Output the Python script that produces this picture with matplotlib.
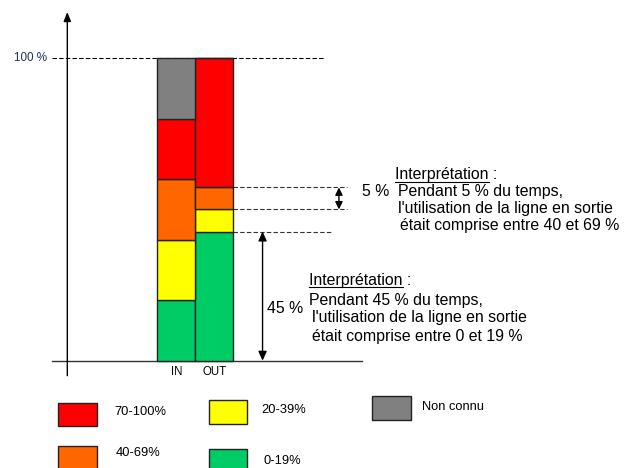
import matplotlib
matplotlib.use('Agg')
import matplotlib.pyplot as plt
from matplotlib.patches import Rectangle
from matplotlib.lines import Line2D

plt.rcParams['font.family'] = ['Liberation Sans', 'DejaVu Sans']

# ---------------- data ----------------
categories = ['IN', 'OUT']
levels = ['0-19%', '20-39%', '40-69%', '70-100%', 'Non connu']
colors = ['#00CC66', '#FFFF00', '#FF6600', '#FF0000', '#808080']
in_values = [20, 20, 20, 20, 20]
out_values = [42.7, 7.3, 7.3, 42.7, 0]
top_label = '100 %'
big_label = '45 %'
small_label = '5 %'
small_text = ['Pendant 5 % du temps,', "l'utilisation de la ligne en sortie",
              'était comprise entre 40 et 69 %']
big_text = ['Pendant 45 % du temps,', "l'utilisation de la ligne en sortie",
            'était comprise entre 0 et 19 %']

W, H = 634, 468
fig = plt.figure(figsize=(W / 100, H / 100), dpi=100)


def fx(px):
    return px / W


def fy(py):
    return 1 - py / H


ax = fig.add_axes([fx(52), fy(375.7), (362 - 52) / W, (375.7 - 12) / H])
ax.set_xlim(-3.271, 4.887)
ax.set_ylim(-4.96, 115.3)

xpos = list(range(len(categories)))
bottoms = [0.0, 0.0]
for i, (lab, col) in enumerate(zip(levels, colors)):
    vals = [in_values[i], out_values[i]]
    ax.bar(xpos, vals, width=1.0, bottom=bottoms, color=col,
           edgecolor='#222222', linewidth=1.0, zorder=3)
    bottoms = [b + v for b, v in zip(bottoms, vals)]

for s in ['top', 'right', 'left']:
    ax.spines[s].set_visible(False)
ax.spines['bottom'].set_position(('data', 0))
ax.spines['bottom'].set_color('#333333')
ax.spines['bottom'].set_linewidth(1.0)
ax.set_yticks([])
ax.set_xticks(xpos)
ax.set_xticklabels(categories, fontsize=8.3)
ax.tick_params(axis='x', length=0, pad=4)

# y axis with arrow
yax_x = -2.868
ax.annotate('', xy=(yax_x, 115.3), xytext=(yax_x, -4.96),
            arrowprops=dict(arrowstyle='-|>,head_length=0.55,head_width=0.22',
                            mutation_scale=10, color='black', lw=1.0,
                            shrinkA=0, shrinkB=0),
            annotation_clip=False)

dash = (0, (4, 2))
ax.hlines(100, -3.271, 3.91, colors='black', linestyles=dash, linewidth=0.8)
ax.text(-3.40, 100, top_label, ha='right', va='center', fontsize=8.4,
        color='#1f3060', clip_on=False)

c1 = out_values[0]
c2 = c1 + out_values[1]
c3 = c2 + out_values[2]
ax.hlines([c3, c2], 1.5, 4.49, colors='#333333', linestyles=dash, linewidth=0.8)
ax.hlines(c1, 1.5, 4.09, colors='#333333', linestyles=dash, linewidth=0.8)

ax.annotate('', xy=(2.27, 0), xytext=(2.27, c1),
            arrowprops=dict(arrowstyle='<|-|>,head_length=0.55,head_width=0.25',
                            mutation_scale=10, color='black', lw=1.0,
                            shrinkA=0, shrinkB=0))
ax.annotate('', xy=(4.28, c2), xytext=(4.28, c3),
            arrowprops=dict(arrowstyle='<|-|>,head_length=0.45,head_width=0.22',
                            mutation_scale=10, color='black', lw=1.0,
                            shrinkA=0, shrinkB=0))

FS = 11.4


def interp(x, y):
    fig.text(fx(x), fy(y), 'Interprétation :', fontsize=FS, ha='left', va='center')
    m = fig.text(fx(x), fy(y), 'Interprétation', fontsize=FS, ha='left', va='center', alpha=0)
    fig.canvas.draw()
    bb = m.get_window_extent()
    fig.add_artist(Line2D([fx(x), bb.x1 / W], [fy(y + 6.5), fy(y + 6.5)],
                          transform=fig.transFigure, color='black', lw=0.8))


interp(395, 175)
fig.text(fx(362.5), fy(191.7), small_label, fontsize=FS, ha='left', va='center')
fig.text(fx(398), fy(191.7), small_text[0], fontsize=FS, ha='left', va='center')
fig.text(fx(397.5), fy(208.5), small_text[1], fontsize=FS, ha='left', va='center')
fig.text(fx(400), fy(225.2), small_text[2], fontsize=FS, ha='left', va='center')

interp(309.3, 280.7)
fig.text(fx(267.3), fy(308.3), big_label, fontsize=FS, ha='left', va='center')
fig.text(fx(309.3), fy(300), big_text[0], fontsize=FS, ha='left', va='center')
fig.text(fx(312.3), fy(317.7), big_text[1], fontsize=FS, ha='left', va='center')
fig.text(fx(312.3), fy(336.7), big_text[2], fontsize=FS, ha='left', va='center')

# legend
legend_boxes = {
    '70-100%': ((58.3, 403.3, 96.7, 425.7), (114.3, 412.3)),
    '40-69%': ((58.3, 446.0, 96.7, 469.5), (116.0, 453.3)),
    '20-39%': ((209.0, 400.3, 247.3, 423.7), (261.7, 410.0)),
    '0-19%': ((209.0, 449.0, 247.3, 471.0), (263.3, 461.0)),
    'Non connu': ((372.3, 396.0, 411.0, 420.0), (421.7, 406.7)),
}
for lab, col in zip(levels, colors):
    (x0, y0, x1, y1), (tx, ty) = legend_boxes[lab]
    fig.add_artist(Rectangle((fx(x0), fy(y1)), (x1 - x0) / W, (y1 - y0) / H,
                             transform=fig.transFigure, facecolor=col,
                             edgecolor='#222222', lw=1.0))
    fig.text(fx(tx), fy(ty), lab, fontsize=9.3, ha='left', va='center')

fig.savefig('out.png', dpi=100)
